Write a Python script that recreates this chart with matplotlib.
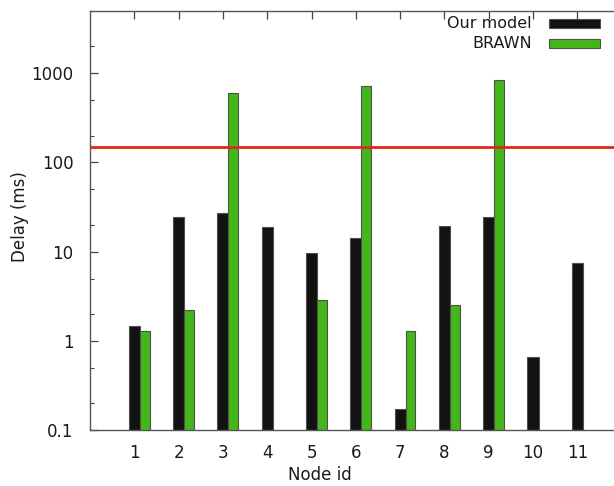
import matplotlib
matplotlib.use("Agg")
import matplotlib.pyplot as plt
import numpy as np
from matplotlib.patches import Rectangle
from matplotlib.ticker import LogLocator, FixedLocator, FixedFormatter

nodes = [1, 2, 3, 4, 5, 6, 7, 8, 9, 10, 11]
our_model = [1.46, 24.6, 27.3, 18.7, 9.7, 14.1, 0.172, 19.2, 24.6, 0.655, 7.5]
brawn = [1.28, 2.19, 600, None, 2.88, 730, 1.28, 2.51, 836, None, None]
threshold = 150
y_ticks = [0.1, 1, 10, 100, 1000]
y_labels = ["0.1", "1", "10", "100", "1000"]

BLACK = "#121212"
GREEN = "#43b719"
EDGE = "#505050"

W, H = 614.0, 486.0
fig = plt.figure(figsize=(6.14, 4.86), dpi=100)
ax = fig.add_axes((90 / W, 56 / H, 531.6 / W, 419 / H))

x = np.array(nodes, dtype=float)
bw_black, bw_green = 0.25, 0.22
ax.bar(x, our_model, width=bw_black, color=BLACK, edgecolor=EDGE, linewidth=0.8,
       zorder=2)
bx = [xi + bw_black / 2 + bw_green / 2 for xi, v in zip(x, brawn) if v is not None]
bv = [v for v in brawn if v is not None]
ax.bar(bx, bv, width=bw_green, color=GREEN, edgecolor=EDGE, linewidth=0.8,
       zorder=2)

ax.axhline(threshold, color="#e3261b", linewidth=2.0, zorder=3)

ax.set_yscale("log")
ax.set_ylim(0.1, 5000)
ax.set_xlim(0, 12)
ax.yaxis.set_major_locator(FixedLocator(y_ticks))
ax.yaxis.set_major_formatter(FixedFormatter(y_labels))
ax.yaxis.set_minor_locator(LogLocator(base=10, subs=(2.0, 5.0)))
ax.yaxis.set_minor_formatter(FixedFormatter([]))
ax.set_xticks(nodes)
ax.set_xticklabels([str(n) for n in nodes])

ax.tick_params(axis="both", which="both", direction="in", top=True, right=True,
               color="#444444", labelsize=12, labelcolor="#1a1a1a")
ax.tick_params(axis="both", which="major", length=6, width=0.9)
ax.tick_params(axis="y", which="minor", length=3, width=0.8)
ax.tick_params(axis="x", pad=10)
ax.tick_params(axis="y", pad=12)

for s in ax.spines.values():
    s.set_color("#555555")
    s.set_linewidth(1.0)

# axis labels placed where the gnuplot original puts them
ax.set_xlabel("Node id", fontsize=12, color="#1a1a1a", va="center")
ax.set_ylabel("Delay (ms)", fontsize=12, color="#1a1a1a", va="center")
ax.xaxis.set_label_coords((320 - 90) / 531.6, -(475 - 430) / 419)
ax.yaxis.set_label_coords(-(90 - 20) / 531.6, (430 - 217) / 419)

# legend, gnuplot style: right-aligned text then swatch
for label, col, yc in [("Our model", BLACK, 24), ("BRAWN", GREEN, 44)]:
    fig.text(532 / W, 1 - yc / H, label, ha="right", va="center", fontsize=11.5,
             color="#1a1a1a")
    fig.patches.append(Rectangle((549 / W, 1 - (yc + 4.5) / H), 51 / W, 9 / H,
                                 transform=fig.transFigure, facecolor=col,
                                 edgecolor=EDGE, linewidth=0.8))

fig.savefig("out.png", dpi=100)
